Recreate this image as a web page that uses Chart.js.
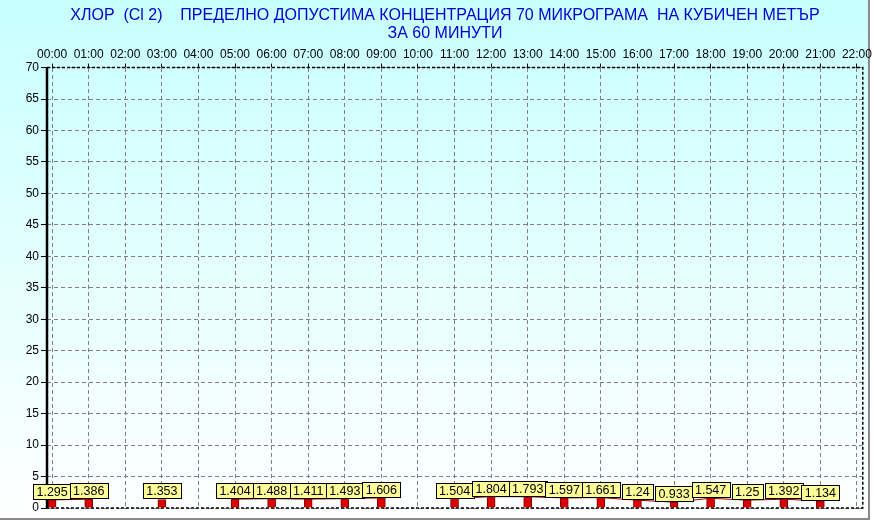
<!DOCTYPE html>
<html>
<head>
<meta charset="utf-8">
<script src="https://cdn.jsdelivr.net/npm/chart.js@4/dist/chart.umd.min.js"></script>
<style>
html,body{margin:0;padding:0;background:#fff;}
#wrap{width:874px;height:529px;position:relative;}
</style>
</head>
<body>
<div id="wrap"><canvas id="c" width="874" height="529"></canvas></div>
<script>
const titleLines = ["ХЛОР  (Cl 2)    ПРЕДЕЛНО ДОПУСТИМА КОНЦЕНТРАЦИЯ 70 МИКРОГРАМА  НА КУБИЧЕН МЕТЪР", "ЗА 60 МИНУТИ"];
const hourLabels = ["00:00","01:00","02:00","03:00","04:00","05:00","06:00","07:00","08:00","09:00","10:00","11:00","12:00","13:00","14:00","15:00","16:00","17:00","18:00","19:00","20:00","21:00","22:00"];
const chlorineValues = [1.295, 1.386, null, 1.353, null, 1.404, 1.488, 1.411, 1.493, 1.606, null, 1.504, 1.804, 1.793, 1.597, 1.661, 1.24, 0.933, 1.547, 1.25, 1.392, 1.134, null];
const valueLabels = ["1.295","1.386",null,"1.353",null,"1.404","1.488","1.411","1.493","1.606",null,"1.504","1.804","1.793","1.597","1.661","1.24","0.933","1.547","1.25","1.392","1.134",null];
const yMin = 0, yMax = 70, yStep = 5;

const points = chlorineValues.map((v, i) => ({x: i, y: v}));
const FONT = "'Liberation Sans', Arial, sans-serif";

const backgroundPlugin = {
  id: 'bg',
  beforeDraw(chart) {
    const ctx = chart.ctx;
    const w = chart.width, h = chart.height;
    ctx.save();
    ctx.fillStyle = '#ffffff';
    ctx.fillRect(0, 0, w, h);
    const g = ctx.createLinearGradient(0, 0, 0, h - 10);
    g.addColorStop(0, '#c8ffff');
    g.addColorStop(1, '#ffffff');
    ctx.fillStyle = g;
    ctx.fillRect(0, 0, w - 5, h - 10);
    ctx.strokeStyle = '#8a8a8a';
    ctx.lineWidth = 2;
    ctx.beginPath();
    ctx.moveTo(w - 5, 0);
    ctx.lineTo(w - 5, h - 10);
    ctx.lineTo(0, h - 10);
    ctx.stroke();
    ctx.restore();
  }
};

const frameAndLabelsPlugin = {
  id: 'frameLabels',
  afterDatasetsDraw(chart) {
    const ctx = chart.ctx;
    const a = chart.chartArea;
    ctx.save();
    ctx.strokeStyle = '#000000';
    ctx.lineWidth = 1.5;
    ctx.setLineDash([3, 2]);
    ctx.beginPath();
    ctx.moveTo(a.left, a.top);
    ctx.lineTo(a.right, a.top);
    ctx.lineTo(a.right, a.bottom);
    ctx.lineTo(a.left, a.bottom);
    ctx.stroke();
    ctx.setLineDash([]);
    ctx.lineWidth = 2.5;
    ctx.beginPath();
    ctx.moveTo(a.left, a.top);
    ctx.lineTo(a.left, a.bottom);
    ctx.stroke();
    const meta = chart.getDatasetMeta(0);
    ctx.font = "12.5px " + FONT;
    ctx.textAlign = 'center';
    ctx.textBaseline = 'middle';
    meta.data.forEach((el, i) => {
      const lbl = valueLabels[i];
      if (lbl === null || chlorineValues[i] === null) return;
      const tw = ctx.measureText(lbl).width;
      const bw = Math.round(tw + 7), bh = 15;
      const x = Math.round(el.x - bw / 2) + 0.5;
      const yb = Math.round(el.y) - 1;
      const y = yb - bh + 0.5;
      ctx.fillStyle = '#ffff99';
      ctx.fillRect(x, y, bw, bh);
      ctx.strokeStyle = '#000000';
      ctx.lineWidth = 1;
      ctx.strokeRect(x, y, bw, bh);
      ctx.fillStyle = '#000000';
      ctx.fillText(lbl, el.x, y + bh / 2 + 1);
    });
    ctx.restore();
  }
};

new Chart(document.getElementById('c'), {
  type: 'bar',
  data: {
    datasets: [
      {
        type: 'bar',
        data: points,
        backgroundColor: '#dd0000',
        borderColor: '#7a0000',
        borderWidth: 1,
        barThickness: 8,
        order: 2
      },
      {
        type: 'line',
        data: points,
        borderColor: '#990000',
        borderWidth: 1,
        pointRadius: 0,
        spanGaps: false,
        order: 1
      }
    ]
  },
  options: {
    responsive: false,
    animation: false,
    layout: { padding: { left: 24, right: 8, bottom: 21, top: 0 } },
    plugins: {
      legend: { display: false },
      tooltip: { enabled: false },
      title: {
        display: true,
        text: titleLines,
        color: '#0000cc',
        font: { family: FONT, size: 16, weight: 'normal', lineHeight: 1.1 },
        padding: { top: 7, bottom: 3 }
      }
    },
    scales: {
      x: {
        type: 'linear',
        position: 'top',
        offset: false,
        min: -0.14,
        max: 22.16,
        ticks: {
          stepSize: 1,
          includeBounds: false,
          autoSkip: false,
          maxRotation: 0,
          padding: 2,
          color: '#000000',
          font: { family: FONT, size: 12 },
          callback: (v) => hourLabels[v] !== undefined ? hourLabels[v] : ''
        },
        grid: {
          offset: false,
          color: '#808080',
          lineWidth: 1,
          tickLength: 4,
          tickColor: '#000000',
          tickBorderDash: []
        },
        border: { display: false, dash: [4, 3] }
      },
      y: {
        min: yMin,
        max: yMax,
        ticks: {
          stepSize: yStep,
          padding: 2,
          color: '#000000',
          font: { family: FONT, size: 12 }
        },
        grid: {
          color: '#808080',
          lineWidth: 1,
          tickLength: 6,
          tickColor: '#000000',
          tickBorderDash: []
        },
        border: { display: false, dash: [4, 3] },
        afterFit: (scale) => { scale.width = 23; }
      }
    }
  },
  plugins: [backgroundPlugin, frameAndLabelsPlugin]
});
</script>
</body>
</html>
